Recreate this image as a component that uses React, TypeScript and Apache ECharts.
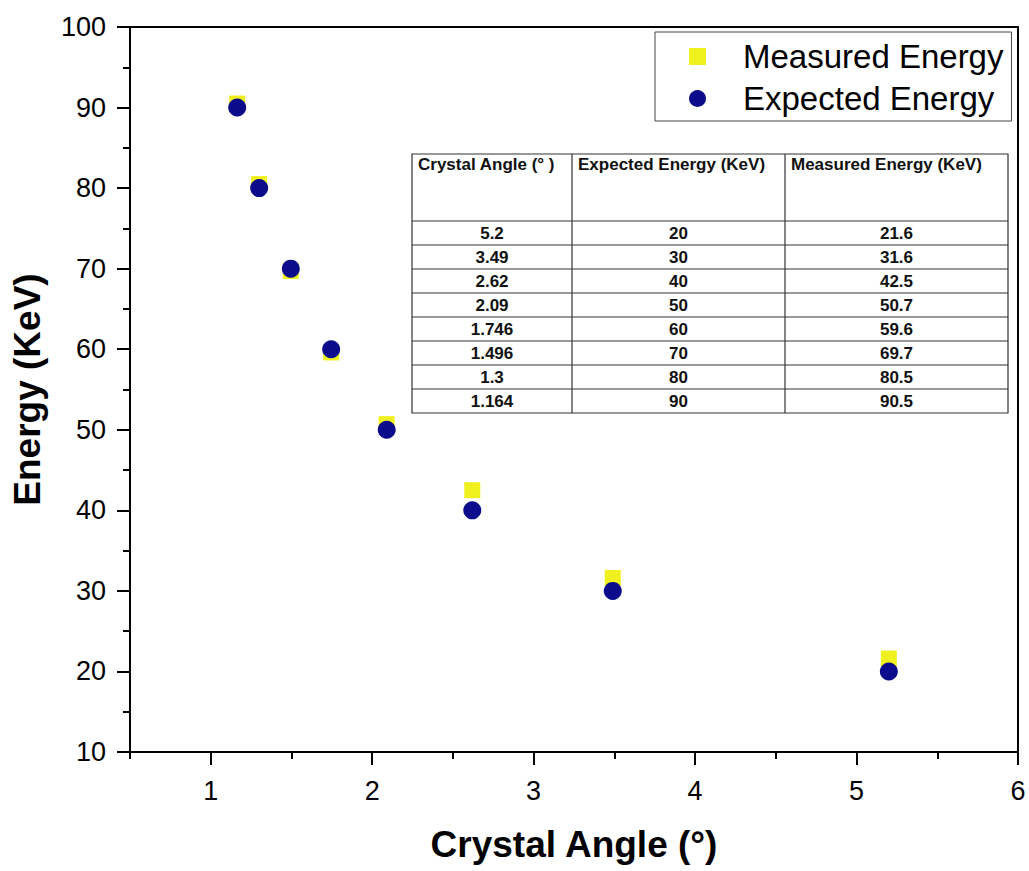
import React, { useEffect, useRef } from "react";
import * as echarts from "echarts";

// Crystal angle (degrees) for each measurement
const angles = [5.2, 3.49, 2.62, 2.09, 1.746, 1.496, 1.3, 1.164];
// Expected photon energy (KeV)
const expectedEnergy = [20, 30, 40, 50, 60, 70, 80, 90];
// Measured photon energy (KeV)
const measuredEnergy = [21.6, 31.6, 42.5, 50.7, 59.6, 69.7, 80.5, 90.5];

const tableHeaders = ["Crystal Angle (° )", "Expected Energy (KeV)", "Measured Energy (KeV)"];

const xMajorTicks = [1, 2, 3, 4, 5, 6];
const xMinorTicks = [0.5, 1.5, 2.5, 3.5, 4.5, 5.5];

const FONT = "'Liberation Sans', Arial, Helvetica, sans-serif";
const YELLOW = "#F0F01E";
const NAVY = "#0B0B8C";

function buildTable() {
  const x0 = 412;
  const y0 = 154;
  const colWidths = [160, 213, 223];
  const headerH = 67;
  const rowH = 24;
  const rows = angles.map((a, i) => [String(a), String(expectedEnergy[i]), String(measuredEnergy[i])]);
  const totalW = colWidths.reduce((s, w) => s + w, 0);
  const totalH = headerH + rows.length * rowH;
  const lineStyle = { stroke: "#333", lineWidth: 1.2 };
  const children: any[] = [];

  children.push({
    type: "rect",
    shape: { x: x0, y: y0, width: totalW, height: totalH },
    style: { fill: "#fff", stroke: "#333", lineWidth: 1.2 },
  });

  // column separators
  let cx = x0;
  for (let c = 0; c < colWidths.length - 1; c++) {
    cx += colWidths[c];
    children.push({
      type: "line",
      shape: { x1: cx, y1: y0, x2: cx, y2: y0 + totalH },
      style: lineStyle,
    });
  }
  // row separators
  for (let r = 0; r < rows.length; r++) {
    const yy = y0 + headerH + r * rowH;
    children.push({
      type: "line",
      shape: { x1: x0, y1: yy, x2: x0 + totalW, y2: yy },
      style: lineStyle,
    });
  }

  // header texts
  let hx = x0;
  tableHeaders.forEach((h, c) => {
    children.push({
      type: "text",
      x: hx + 6,
      y: y0 + 2,
      style: {
        text: h,
        fill: "#111",
        font: `bold 17px ${FONT}`,
        textAlign: "left",
        textVerticalAlign: "top",
      },
    });
    hx += colWidths[c];
  });

  // body texts
  rows.forEach((row, r) => {
    let bx = x0;
    row.forEach((val, c) => {
      children.push({
        type: "text",
        x: bx + colWidths[c] / 2,
        y: y0 + headerH + r * rowH + rowH / 2,
        style: {
          text: val,
          fill: "#111",
          font: `bold 17px ${FONT}`,
          textAlign: "center",
          textVerticalAlign: "middle",
        },
      });
      bx += colWidths[c];
    });
  });

  return children;
}

export default function App() {
  const ref = useRef<HTMLDivElement>(null);

  useEffect(() => {
    if (!ref.current) return;
    const chart = echarts.init(ref.current, undefined, { renderer: "svg" });

    const axisLine = { show: true, lineStyle: { color: "#000", width: 2 } };

    chart.setOption({
      animation: false,
      backgroundColor: "#fff",
      grid: {
        left: 130,
        top: 27,
        right: 11,
        bottom: 119,
        show: true,
        borderColor: "#000",
        borderWidth: 2,
        backgroundColor: "transparent",
      },
      legend: {
        orient: "vertical",
        left: 655,
        top: 32,
        padding: [8, 8, 6, 34],
        itemGap: 9,
        itemWidth: 17,
        itemHeight: 17,
        borderColor: "#444",
        borderWidth: 1,
        backgroundColor: "#fff",
        textStyle: {
          fontFamily: FONT,
          fontSize: 33,
          color: "#000",
          padding: [0, 0, 0, 32],
        },
        data: ["Measured Energy", "Expected Energy"],
      },
      xAxis: [
        {
          type: "value",
          min: 0.5,
          max: 6,
          name: "Crystal Angle (°)",
          nameLocation: "middle",
          nameGap: 74,
          nameTextStyle: { fontFamily: FONT, fontSize: 37, fontWeight: "bold", color: "#000" },
          axisLine,
          axisTick: {
            show: true,
            inside: false,
            length: 13,
            customValues: xMajorTicks,
            lineStyle: { color: "#000", width: 2 },
          },
          axisLabel: {
            customValues: xMajorTicks,
            fontFamily: FONT,
            fontSize: 27,
            color: "#000",
            margin: 25,
          },
          splitLine: { show: false },
        },
        {
          type: "value",
          position: "bottom",
          min: 0.5,
          max: 6,
          axisLine: { show: false },
          axisTick: {
            show: true,
            inside: false,
            length: 7,
            customValues: xMinorTicks,
            lineStyle: { color: "#000", width: 2 },
          },
          axisLabel: { show: false },
          splitLine: { show: false },
        },
      ],
      yAxis: {
        type: "value",
        min: 10,
        max: 100,
        interval: 10,
        name: "Energy (KeV)",
        nameLocation: "middle",
        nameGap: 84,
        nameTextStyle: { fontFamily: FONT, fontSize: 37, fontWeight: "bold", color: "#000" },
        axisLine,
        axisTick: { show: true, inside: false, length: 13, lineStyle: { color: "#000", width: 2 } },
        minorTick: { show: true, splitNumber: 2, length: 7, lineStyle: { color: "#000", width: 2 } },
        axisLabel: { fontFamily: FONT, fontSize: 27, color: "#000", margin: 24 },
        splitLine: { show: false },
      },
      series: [
        {
          name: "Measured Energy",
          type: "scatter",
          symbol: "rect",
          symbolSize: 16,
          itemStyle: { color: YELLOW, opacity: 1 },
          data: angles.map((a, i) => [a, measuredEnergy[i]]),
        },
        {
          name: "Expected Energy",
          type: "scatter",
          symbol: "circle",
          symbolSize: 18,
          itemStyle: { color: NAVY, opacity: 1 },
          data: angles.map((a, i) => [a, expectedEnergy[i]]),
        },
      ],
      graphic: [{ type: "group", children: buildTable() }],
    });

    return () => chart.dispose();
  }, []);

  return (
    <div
      ref={ref}
      style={{ position: "absolute", left: 0, top: 0, width: 1029, height: 871 }}
    />
  );
}
